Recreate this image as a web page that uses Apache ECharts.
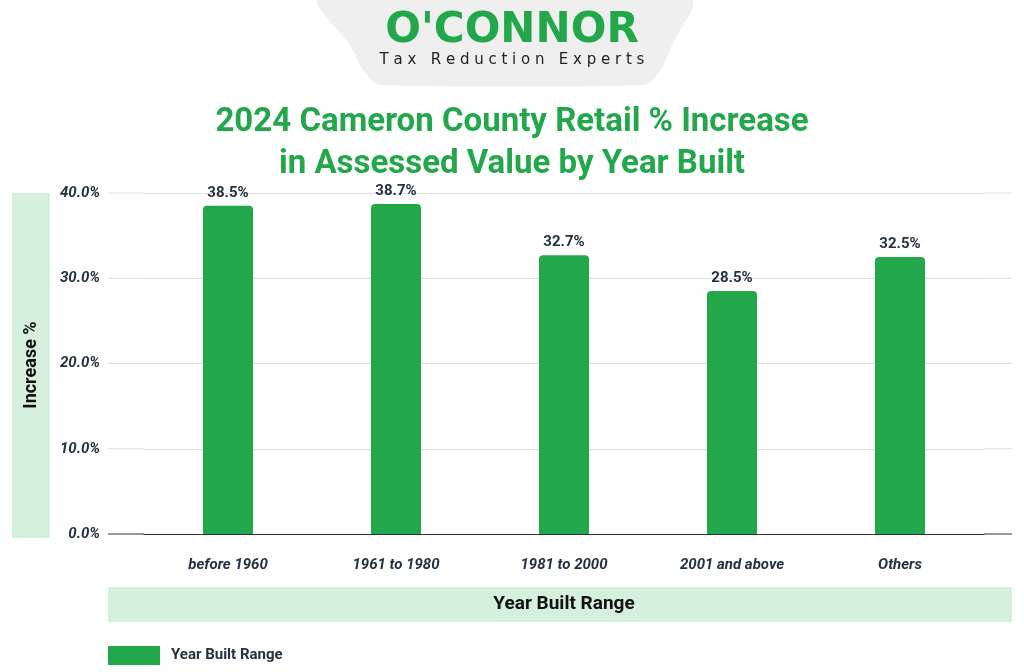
<!DOCTYPE html>
<html><head><meta charset="utf-8">
<script src="https://cdn.jsdelivr.net/npm/echarts@6/dist/echarts.min.js"></script>
<style>html,body{margin:0;background:#fff}#c{width:1024px;height:672px}</style>
</head><body><div id="c"></div>
<script>
const categories = ['before 1960','1961 to 1980','1981 to 2000','2001 and above','Others'];
const values = [38.5, 38.7, 32.7, 28.5, 32.5];
const yTicks = [0,10,20,30,40];
const G = '#22a84a';
const T = '#253040';
const chart = echarts.init(document.getElementById('c'));
chart.setOption({
  backgroundColor:'#fff',
  animation:false,
  title:{text:'2024 Cameron County Retail % Increase\nin Assessed Value by Year Built',left:'center',top:97,
    textStyle:{color:G,fontFamily:'Roboto',fontWeight:'bold',fontSize:33,lineHeight:42}},
  grid:{left:144,right:40,top:193,bottom:138},
  legend:{left:103,top:641,itemWidth:52,itemHeight:19,icon:'rect',
    textStyle:{fontFamily:'Roboto',fontWeight:'bold',fontSize:15,color:T,padding:[0,0,0,6]},data:['Year Built Range']},
  xAxis:{type:'category',data:categories,axisTick:{show:false},
    axisLine:{lineStyle:{color:'#333'}},
    axisLabel:{margin:24,fontFamily:'Roboto',fontStyle:'italic',fontWeight:'bold',fontSize:15,color:T}},
  yAxis:{type:'value',min:yTicks[0],max:yTicks[yTicks.length-1],interval:10,
    axisLabel:{show:false},splitLine:{lineStyle:{color:'#ddd'}}},
  series:[{name:'Year Built Range',type:'bar',data:values,barWidth:50,
    itemStyle:{color:G,borderRadius:[4,4,0,0]},
    label:{show:true,position:'top',formatter:p=>p.value.toFixed(1)+'%',
      fontFamily:'Roboto',fontWeight:'bold',fontSize:15,color:T}}],
  graphic:[
    {type:'polygon',shape:{points:[[318,0],[692,0],[672,45],[660,72],[645,85],[379,85],[364,72],[350,45]],smooth:0.2},style:{fill:'#efefef'}},
    {type:'text',left:'center',top:10,style:{text:"O'CONNOR",fill:G,font:'900 42px "DejaVu Sans"'}},
    {type:'text',left:'center',top:53,style:{text:'T a x   R e d u c t i o n   E x p e r t s',fill:'#222',font:'15px "DejaVu Sans"'}},
    {type:'rect',shape:{x:12,y:193,width:38,height:345},style:{fill:'#d5f0dc'}},
    {type:'text',x:31,y:365,rotation:Math.PI/2,style:{text:'Increase %',fill:'#111',font:'bold 18px Roboto',align:'center',verticalAlign:'middle'}},
    {type:'rect',shape:{x:108,y:587,width:904,height:35},style:{fill:'#d5f0dc'}},
    {type:'text',x:564,y:604,style:{text:'Year Built Range',fill:'#111',font:'bold 19px Roboto',align:'center',verticalAlign:'middle'}},
    ...yTicks.map(t=>({type:'line',shape:{x1:108,y1:534-t*8.525,x2:144,y2:534-t*8.525},style:{stroke:t?'#ddd':'#333'}})),
    ...yTicks.map(t=>({type:'line',shape:{x1:984,y1:534-t*8.525,x2:1012,y2:534-t*8.525},style:{stroke:t?'#ddd':'#333'}})),
    ...yTicks.map(t=>({type:'text',x:100,y:534-t*8.525,style:{text:t.toFixed(1)+'%',fill:T,font:'italic bold 15px Roboto',align:'right',verticalAlign:'middle'}}))
  ]
});
</script></body></html>
